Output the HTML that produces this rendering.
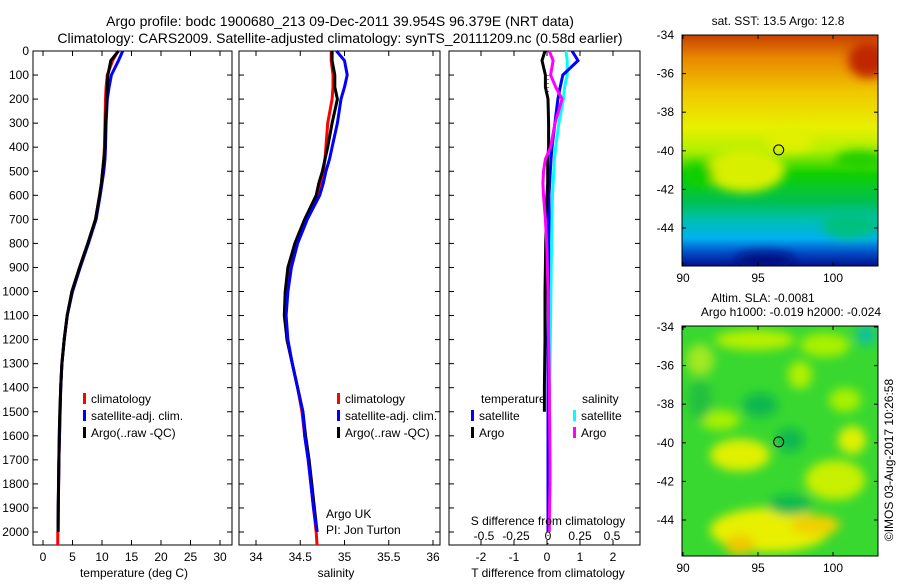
<!DOCTYPE html>
<html><head><meta charset="utf-8">
<style>
html,body{margin:0;padding:0;background:#fff;}
svg text{font-family:"Liberation Sans",sans-serif;fill:#000;}
</style></head>
<body>
<svg id="chart" width="900" height="580" viewBox="0 0 900 580" xmlns="http://www.w3.org/2000/svg">
<defs>
<linearGradient id="sstGrad" x1="0" y1="0" x2="0" y2="1">
<stop offset="0" stop-color="#c84000"/>
<stop offset="0.1" stop-color="#e88800"/>
<stop offset="0.25" stop-color="#f0c800"/>
<stop offset="0.4" stop-color="#e8f000"/>
<stop offset="0.5" stop-color="#b0f000"/>
<stop offset="0.6" stop-color="#10d000"/>
<stop offset="0.72" stop-color="#00c050"/>
<stop offset="0.8" stop-color="#00c0b0"/>
<stop offset="0.88" stop-color="#00b0f0"/>
<stop offset="0.94" stop-color="#0050c8"/>
<stop offset="1" stop-color="#00108c"/>
</linearGradient>
<filter id="blur4"><feGaussianBlur stdDeviation="5"/></filter>
<clipPath id="clipTop"><rect x="682" y="35" width="196" height="231"/></clipPath>
<clipPath id="clipBot"><rect x="682" y="326" width="196" height="230"/></clipPath>
</defs>
<text x="340" y="26" font-size="14" text-anchor="middle">Argo profile: bodc 1900680_213 09-Dec-2011 39.954S 96.379E (NRT data)</text>
<text x="340" y="43" font-size="14" text-anchor="middle">Climatology: CARS2009. Satellite-adjusted climatology: synTS_20111209.nc (0.58d earlier)</text>
<g id="panels"></g>
<g id="maps">
<g clip-path="url(#clipTop)">
<rect x="682" y="35" width="196" height="231" fill="url(#sstGrad)"/>
<g filter="url(#blur4)">
<ellipse cx="745" cy="170" rx="40" ry="22" fill="#d8f000"/>
<ellipse cx="790" cy="140" rx="25" ry="12" fill="#e0f000"/>
<ellipse cx="700" cy="175" rx="14" ry="12" fill="#10d000"/>
<ellipse cx="860" cy="160" rx="25" ry="10" fill="#20d000"/>
<ellipse cx="868" cy="60" rx="20" ry="18" fill="#c02800"/>
<ellipse cx="765" cy="260" rx="30" ry="8" fill="#001080"/>
<ellipse cx="850" cy="225" rx="28" ry="14" fill="#00c080"/>
</g>
</g>
<rect x="682" y="35" width="196" height="231" fill="none" stroke="#000" stroke-width="1"/>
<g clip-path="url(#clipBot)">
<rect x="682" y="326" width="196" height="230" fill="#38d830"/>
<g filter="url(#blur4)">
<ellipse cx="755" cy="340" rx="40" ry="10" fill="#b8f000"/>
<ellipse cx="700" cy="360" rx="14" ry="16" fill="#a0e820"/>
<ellipse cx="825" cy="345" rx="25" ry="12" fill="#a8f000"/>
<ellipse cx="720" cy="420" rx="20" ry="10" fill="#a8f000"/>
<ellipse cx="740" cy="455" rx="30" ry="16" fill="#e0f000"/>
<ellipse cx="770" cy="530" rx="60" ry="22" fill="#e8f000"/>
<ellipse cx="740" cy="545" rx="15" ry="10" fill="#f0c800"/>
<ellipse cx="815" cy="525" rx="25" ry="10" fill="#f0d000"/>
<ellipse cx="835" cy="480" rx="30" ry="20" fill="#c8f000"/>
<ellipse cx="852" cy="440" rx="14" ry="14" fill="#e0f000"/>
<ellipse cx="790" cy="440" rx="14" ry="12" fill="#10b850"/>
<ellipse cx="760" cy="405" rx="18" ry="12" fill="#10b850"/>
<ellipse cx="700" cy="400" rx="12" ry="20" fill="#20c040"/>
<ellipse cx="790" cy="505" rx="22" ry="10" fill="#10b850"/>
<ellipse cx="866" cy="335" rx="10" ry="10" fill="#10c0a0"/>
<ellipse cx="800" cy="375" rx="12" ry="14" fill="#b0f000"/>
<ellipse cx="845" cy="400" rx="16" ry="12" fill="#a8f000"/>
</g>
</g>
<rect x="682" y="326" width="196" height="230" fill="none" stroke="#000" stroke-width="1"/>
</g>
<text x="778" y="25" font-size="12" text-anchor="middle">sat. SST: 13.5 Argo: 12.8</text>
<text x="763" y="302" font-size="12" text-anchor="middle">Altim. SLA: -0.0081</text>
<text x="791" y="316" font-size="12" text-anchor="middle">Argo h1000: -0.019 h2000: -0.024</text>
<text transform="translate(893,460) rotate(-90)" font-size="12" text-anchor="middle">©IMOS 03-Aug-2017 10:26:58</text>
</svg>
<script>
// depth levels (m)
const depths = [0, 40, 100, 150, 200, 300, 400, 450, 500, 550, 600, 700, 800, 900, 1000, 1100, 1200, 1300, 1400, 1500, 1600, 1700, 1800, 1900, 2000];
// temperature (deg C)
const tempClim = [12.7, 11.8, 10.9, 10.7, 10.6, 10.5, 10.4, 10.3, 10.1, 9.9, 9.6, 8.9, 7.6, 6.2, 4.9, 4.1, 3.6, 3.2, 3.0, 2.9, 2.8, 2.7, 2.65, 2.6, 2.55];
const tempSat = [13.5, 12.8, 11.6, 11.2, 10.9, 10.7, 10.6, 10.5, 10.3, 10.0, 9.7, 9.0, 7.7, 6.3, 5.0, 4.1, 3.6, 3.2, 3.0, 2.9, 2.8, 2.7, 2.65, 2.6, 2.57];
const tempArgo = [12.8, 11.5, 11.0, 10.9, 10.8, 10.6, 10.5, 10.3, 10.1, 9.9, 9.6, 8.9, 7.6, 6.2, 4.9, 4.1, 3.6, 3.2, 3.0, 2.85, 2.75, 2.7, 2.62, 2.58, 2.55];
// salinity
const salClim = [34.85, 34.85, 34.87, 34.87, 34.86, 34.81, 34.79, 34.78, 34.76, 34.73, 34.69, 34.55, 34.44, 34.37, 34.34, 34.33, 34.35, 34.41, 34.47, 34.52, 34.55, 34.59, 34.62, 34.65, 34.68];
const salSat = [34.91, 35.0, 35.03, 35.0, 34.96, 34.92, 34.86, 34.83, 34.79, 34.76, 34.72, 34.58, 34.47, 34.40, 34.36, 34.34, 34.36, 34.41, 34.47, 34.53, 34.55, 34.59, 34.62, 34.65, 34.69];
const salArgo = [34.86, 34.86, 34.89, 34.89, 34.92, 34.86, 34.81, 34.78, 34.75, 34.71, 34.68, 34.55, 34.44, 34.36, 34.33, 34.32, 34.35, 34.41, 34.47, 34.53, 34.56, 34.60, 34.63, 34.66, 34.69];
// differences from climatology
const tDiffSat = [0.76, 0.94, 0.48, 0.4, 0.33, 0.24, 0.15, 0.12, 0.1, 0.08, 0.06, 0.06, 0.05, 0.05, 0.04, 0.04, 0.03, 0.03, 0.03, 0.03, 0.03, 0.03, 0.03, 0.03, 0.03];
const tDiffArgo = [-0.06, -0.15, -0.05, -0.05, 0.03, 0.05, 0.05, 0.02, 0.02, 0.02, 0.0, -0.02, -0.04, -0.05, -0.06, -0.06, -0.06, -0.07, -0.08, -0.08];
const sDiffSat = [0.14, 0.15, 0.15, 0.13, 0.12, 0.085, 0.06, 0.05, 0.045, 0.04, 0.035, 0.03, 0.028, 0.025, 0.023, 0.02, 0.018, 0.016, 0.014, 0.012, 0.01, 0.008, 0.006, 0.004, 0.003];
const sDiffArgo = [0.01, 0.04, 0.02, 0.06, 0.11, 0.055, 0.02, -0.02, -0.035, -0.04, -0.035, -0.02, -0.01, -0.005, 0.0, 0.003, 0.005, 0.008, 0.01, 0.012, 0.014, 0.016, 0.016, 0.012, 0.01];
const depthTicks = [0,100,200,300,400,500,600,700,800,900,1000,1100,1200,1300,1400,1500,1600,1700,1800,1900,2000];
const tempTicks = [0,5,10,15,20,25,30];
const salTicks = [34,34.5,35,35.5,36];
const tDiffTicks = [-2,-1,0,1,2];
const sDiffTicks = [-0.5,-0.25,0,0.25,0.5];
const mapLatTicks = [-34,-36,-38,-40,-42,-44];
const mapLonTicks = [90,95,100];

const NS = 'http://www.w3.org/2000/svg';
const panels = document.getElementById('panels');
function mk(tag, attrs, parent){ const e=document.createElementNS(NS,tag); for(const k in attrs) e.setAttribute(k,attrs[k]); (parent||panels).appendChild(e); return e; }
function txt(x,y,s,size,anchor,parent){ const t=mk('text',{x:x,y:y,'font-size':size||12,'text-anchor':anchor||'middle'},parent); t.textContent=s; return t; }

const TOP=51, BOT=545;
const yScale = d => TOP + d*0.2405;
function xs(x0,x1,v0,v1){ return v => x0 + (v-v0)*(x1-x0)/(v1-v0); }
const xT = xs(43,220,0,30);
const xS = xs(256,433,34,36);
const xTd = xs(481,613,-2,2);
const xSd = xs(484,612,-0.5,0.5);

function frame(x0,x1,name){
  const r=mk('rect',{x:x0,y:TOP,width:x1-x0,height:BOT-TOP,fill:'none',stroke:'#000','stroke-width':1});
  
  
}
function line(vals, sx, color, name, w){
  const pts = vals.map((v,i)=> sx(v).toFixed(1)+','+yScale(depths[i]).toFixed(1)).join(' ');
  const p=mk('polyline',{points:pts,fill:'none',stroke:color,'stroke-width':w||3});
  
  
}
function xticks(ticks, sx, labels, y, name){
  ticks.forEach(t=>{
    const x=sx(t);
    mk('line',{x1:x,y1:TOP,x2:x,y2:TOP+5,stroke:'#000'});
    mk('line',{x1:x,y1:BOT,x2:x,y2:BOT-5,stroke:'#000'});
    if(labels){ const e=txt(x,y,String(t),12);
      
       }
  });
}
function legendEntry(x,y,color,label){
  mk('rect',{x:x,y:y-10,width:3,height:11,fill:color});
  const e=txt(x+8,y,label,12,'start');
  
  
}

frame(33,232,'temperature-panel');
depthTicks.forEach(d=>{
  const y=yScale(d);
  [[33,38],[232,227],[239,244],[440,435],[449,454],[640,635]].forEach(p=>mk('line',{x1:p[0],y1:y,x2:p[1],y2:y,stroke:'#000'}));
  const e=txt(29,y+4,String(d),12,'end');
  
  
});
xticks(tempTicks,xT,true,561,'temperature-tick-label');
line(tempClim, xT,'#ff0000','temp-climatology-line');
line(tempSat, xT,'#0000ff','temp-satellite-line');
line(tempArgo, xT,'#000000','temp-argo-line');
mk('line',{x1:xT(2.5),y1:yScale(2000),x2:xT(2.5),y2:BOT,stroke:'#ff0000','stroke-width':3});
txt(134,577,'temperature (deg C)',12);
legendEntry(83,403,'#ff0000','climatology');
legendEntry(83,420,'#0000ff','satellite-adj. clim.');
legendEntry(83,437,'#000000','Argo(..raw -QC)');

frame(239,440,'salinity-panel');
xticks(salTicks,xS,true,561,'salinity-tick-label');
line(salClim, xS,'#ff0000','sal-climatology-line');
line(salArgo, xS,'#000000','sal-argo-line');
line(salSat, xS,'#0000ff','sal-satellite-line');
mk('line',{x1:xS(34.68),y1:yScale(2000),x2:xS(34.69),y2:BOT,stroke:'#ff0000','stroke-width':3});
txt(336,577,'salinity',12);
legendEntry(337,403,'#ff0000','climatology');
legendEntry(337,420,'#0000ff','satellite-adj. clim.');
legendEntry(337,437,'#000000','Argo(..raw -QC)');
txt(326,518,'Argo UK',12,'start');
txt(326,534,'PI: Jon Turton',12,'start');

frame(449,640,'difference-panel');
xticks(tDiffTicks,xTd,true,561,'t-diff-tick-label');
sDiffTicks.forEach(t=>{ const e=txt(xSd(t),540,String(t),12);
    });
mk('line',{x1:548,y1:yScale(100),x2:548,y2:BOT,stroke:'#000','stroke-dasharray':'1,3','stroke-width':1});
line(sDiffSat, xSd,'#00ffff','s-diff-satellite-line');
line(tDiffSat, xTd,'#0000ff','t-diff-satellite-line');
line(tDiffArgo, xTd,'#000000','t-diff-argo-line');
line(sDiffArgo, xSd,'#ff00ff','s-diff-argo-line');
txt(548,525,'S difference from climatology',12);
txt(548,577,'T difference from climatology',12);
txt(481,403,'temperature',12,'start');
txt(582,403,'salinity',12,'start');
legendEntry(471,420,'#0000ff','satellite');
legendEntry(471,437,'#000000','Argo');
legendEntry(573,420,'#00ffff','satellite');
legendEntry(573,437,'#ff00ff','Argo');

function mapAxes(top, bottom, lat0y){
  const g=document.getElementById('maps');
  mapLatTicks.forEach(l=>{
    const y=lat0y + (-34-l)*19.3;
    mk('line',{x1:682,y1:y,x2:686,y2:y,stroke:'#000'},g);
    mk('line',{x1:878,y1:y,x2:874,y2:y,stroke:'#000'},g);
    const e=txt(674,y+4,String(l),12,'end',g);
     
  });
  mapLonTicks.forEach(l=>{
    const x=683+(l-90)*15;
    mk('line',{x1:x,y1:bottom,x2:x,y2:bottom-4,stroke:'#000'},g);
    mk('line',{x1:x,y1:top,x2:x,y2:top+4,stroke:'#000'},g);
    const e=txt(x,bottom+16,String(l),12,'middle',g);
     
  });
  const c=mk('circle',{cx:683+(96.379-90)*15,cy:lat0y+(39.954-34)*19.3,r:5,fill:'none',stroke:'#000'},g);
   
}
mapAxes(35,266,35);
mapAxes(326,556,327);
</script>
</body></html>
